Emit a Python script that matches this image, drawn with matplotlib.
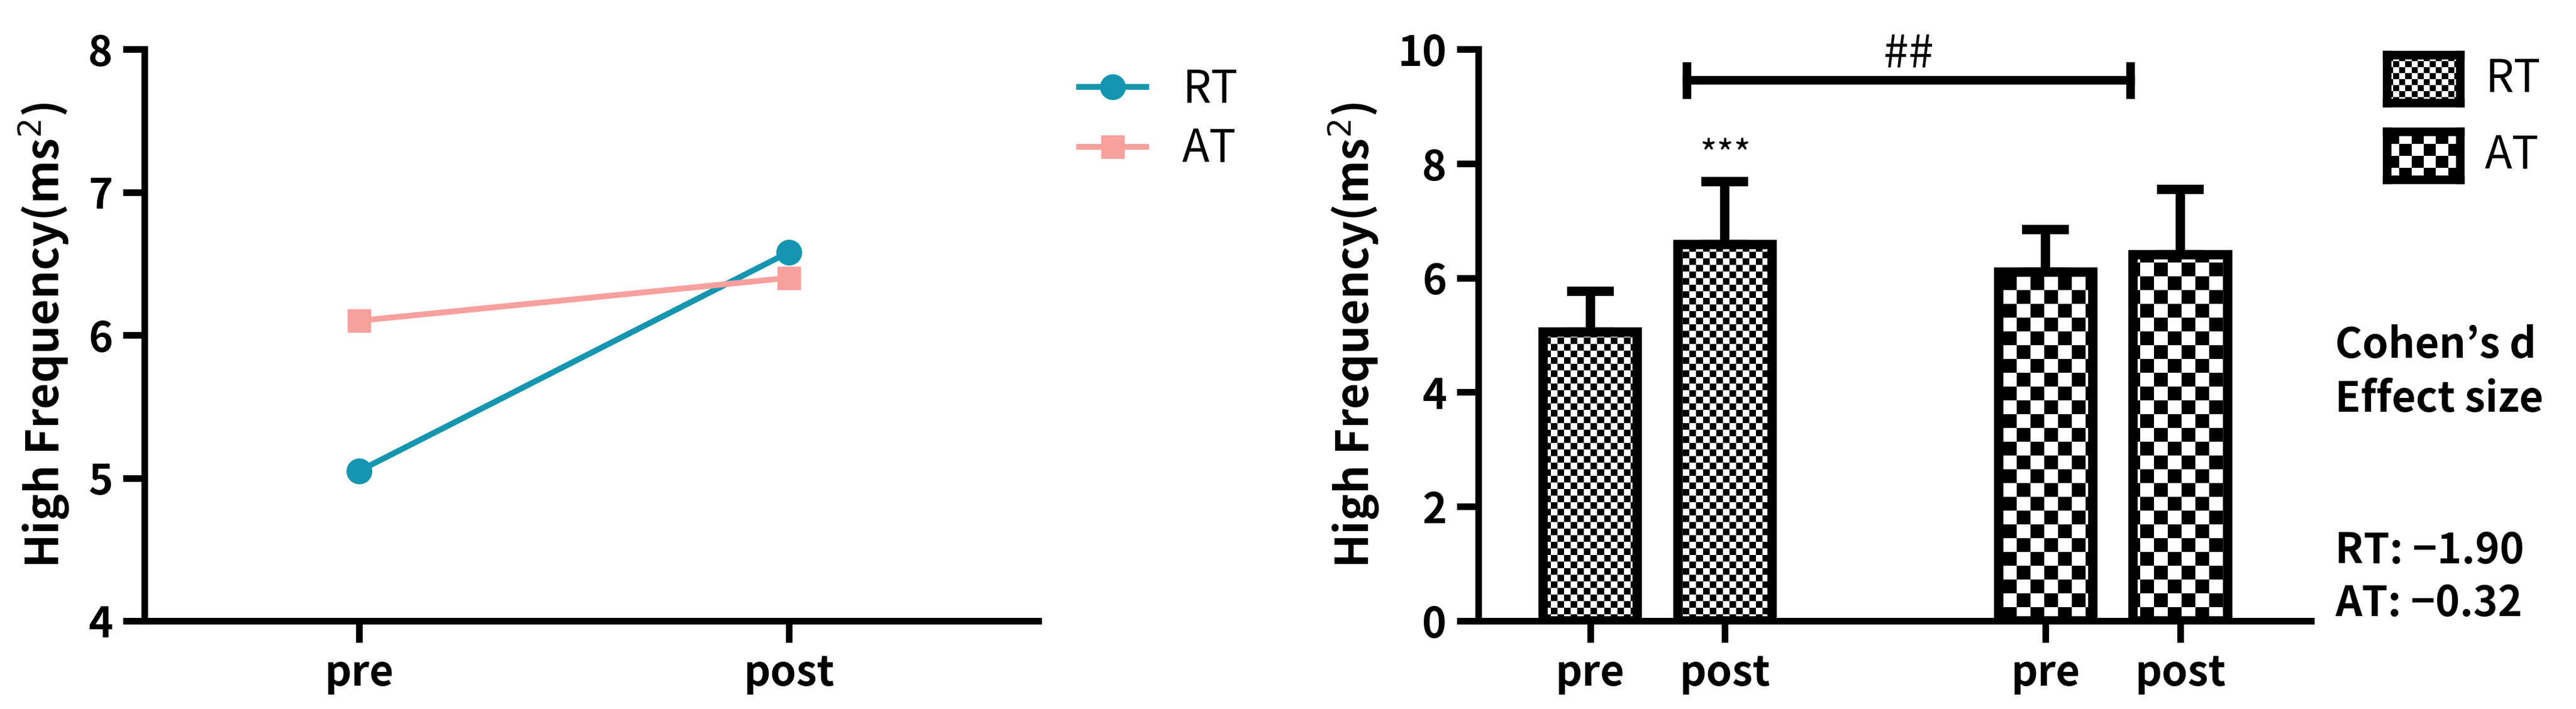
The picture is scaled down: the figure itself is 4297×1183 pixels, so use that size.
import numpy as np
import matplotlib.pyplot as plt

plt.rcParams['font.family'] = ['Noto Sans CJK KR', 'DejaVu Sans']

# data
phases = ['pre', 'post']
rt_mean = [5.05, 6.58]
at_mean = [6.10, 6.40]
rt_sd = [0.72, 1.10]
at_sd = [0.75, 1.15]
bar_labels = ['pre', 'post', 'pre', 'post']
cohen_lines = ["Cohen’s d", "Effect size", "", "RT: \u22121.90", "AT: \u22120.32"]

W, H = 4297, 1183
fig = plt.figure(figsize=(W / 100, H / 100), dpi=100)
LW = 8

def style(ax):
    for s in ['top', 'right']:
        ax.spines[s].set_visible(False)
    for s in ['left', 'bottom']:
        ax.spines[s].set_linewidth(LW)
    ax.tick_params(width=LW, length=26, labelsize=50, pad=12)
    for t in ax.get_xticklabels() + ax.get_yticklabels():
        t.set_fontweight('bold')

# ---- left: line plot
ax1 = fig.add_axes([241 / W, 1 - 1036 / H, (1732 - 241) / W, (1036 - 82) / H])
teal, pink = '#1595b0', '#f8a09e'
ax1.plot([0, 1], rt_mean, '-o', color=teal, lw=7, ms=30, label='RT')
ax1.plot([0, 1], at_mean, '-s', color=pink, lw=7, ms=28, label='AT')
ax1.set_xlim(-0.5, 1.58)
ax1.set_ylim(4, 8)
ax1.set_yticks([4, 5, 6, 7, 8])
ax1.set_xticks([0, 1], phases)
ax1.set_ylabel('High Frequency(ms$^2$)', fontsize=54, fontweight='bold', labelpad=20)
style(ax1)
ax1.legend(loc='upper left', bbox_to_anchor=(1.0, 1.04), frameon=False, fontsize=54,
           handlelength=1.5, labelspacing=0.3)

# ---- right: bar chart
ax2 = fig.add_axes([2466 / W, 1 - 1036 / H, (3855 - 2466) / W, (1036 - 82) / H])
pos = [0, 1, 3.38, 4.38]
means = rt_mean + at_mean
sds = rt_sd + at_sd
cells = [11, 11, 23, 23]
axw, axh = 3855 - 2466, 1036 - 82

def checker(cell):
    nx, ny = axw // cell + 1, axh // cell + 1
    return (np.indices((ny, nx)).sum(axis=0) % 2).astype(float)

for x, m, s, c in zip(pos, means, sds, cells):
    bar = ax2.bar(x, m, width=0.7, facecolor='none', edgecolor='black', lw=LW * 1.4, zorder=3)[0]
    img = checker(c)
    ny, nx = img.shape
    im = ax2.imshow(img, cmap='gray', extent=(0, nx * c / axw, 0, ny * c / axh),
                    transform=ax2.transAxes, interpolation='nearest', aspect='auto',
                    origin='lower', zorder=2)
    im.set_clip_path(bar)
    ax2.errorbar(x, m, yerr=[[0], [s]], fmt='none', ecolor='black', elinewidth=LW * 1.4,
                 capsize=28, capthick=LW * 1.4, zorder=1)
ax2.set_xlim(-0.83, 5.35)
ax2.set_ylim(0, 10)
ax2.set_xticks(pos, bar_labels)
ax2.set_yticks(range(0, 11, 2))
ax2.set_ylabel('High Frequency(ms$^2$)', fontsize=54, fontweight='bold', labelpad=20)
style(ax2)
x0, x1 = 0.72, 4.01
ax2.plot([x0, x1], [9.45, 9.45], color='black', lw=LW * 1.3, clip_on=False)
for xx in [x0, x1]:
    ax2.plot([xx, xx], [9.2, 9.7], color='black', lw=LW * 1.3, clip_on=False)
ax2.text((x0 + x1) / 2, 9.5, '##', ha='center', va='bottom', fontsize=54)
ax2.text(1, 7.8, '***', ha='center', va='bottom', fontsize=44)

# bar legend swatches
for (label, cell, yy) in [('RT', 11, 132), ('AT', 23, 260)]:
    sw = fig.add_axes([3982 / W, 1 - (yy + 40) / H, 122 / W, 80 / H])
    n = 122 // cell + 1
    sw.imshow((np.indices((80 // cell + 1, n)).sum(axis=0) % 2).astype(float), cmap='gray',
              interpolation='nearest', aspect='auto')
    sw.set_xticks([]); sw.set_yticks([])
    for sp in sw.spines.values():
        sp.set_linewidth(LW * 1.3)
    fig.text(4145 / W, 1 - yy / H, label, fontsize=54, va='center')

for i, line in enumerate(cohen_lines):
    ys = [577, 667, 0, 920, 1008][i]
    if line:
        fig.text(3895 / W, 1 - ys / H, line, fontsize=50, fontweight='bold', va='center')

fig.savefig('out.png', dpi=100)
